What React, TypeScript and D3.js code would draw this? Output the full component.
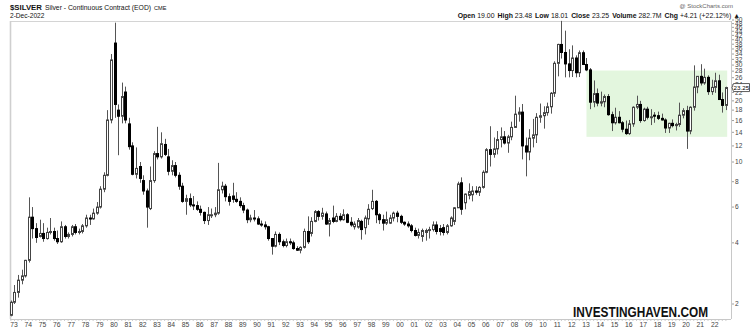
import React from "react";
import * as d3 from "d3";

// Quarterly candles, first bar = 1972 Q4, last bar = 2022 Q4
const firstYear = 1972;
const firstQuarter = 4;

const opens = [
  1.76,
  2.04, 2.28, 2.62, 2.75,
  3.28, 5.35, 4.70, 4.30,
  4.45, 4.20, 4.50, 4.55,
  4.20, 4.05, 4.80, 4.30,
  4.40, 4.80, 4.50, 4.55,
  4.85, 5.30, 5.25, 5.60,
  6.00, 7.35, 8.60, 16.1,
  38.5, 18.0, 16.8, 22.1,
  15.4, 12.0, 8.70, 9.50,
  8.10, 7.20, 5.90, 8.10,
  11.0, 10.6, 12.2, 10.6,
  9.00, 9.60, 8.60, 7.60,
  6.40, 6.60, 6.15, 6.10,
  5.85, 5.65, 5.15, 5.45,
  5.50, 5.60, 7.30, 7.60,
  6.75, 6.80, 6.55, 6.40,
  6.10, 5.80, 5.20, 5.30,
  5.25, 4.95, 4.90, 4.80,
  4.20, 3.85, 4.40, 4.05,
  3.88, 4.05, 4.00, 3.75,
  3.68, 3.80, 4.55, 4.45,
  5.10, 5.70, 5.40, 5.55,
  4.95, 5.30, 5.10, 5.40,
  5.20, 5.50, 5.05, 4.80,
  4.78, 5.10, 4.75, 5.25,
  5.90, 6.40, 5.50, 5.20,
  5.00, 5.00, 5.30, 5.60,
  5.40, 5.05, 4.95, 4.85,
  4.60, 4.35, 4.30, 4.50,
  4.60, 4.65, 4.90, 4.70,
  4.75, 4.50, 4.85, 5.10,
  5.95, 7.90, 6.30, 6.85,
  6.90, 7.20, 7.10, 7.50,
  8.90, 11.5, 10.9, 11.6,
  12.9, 13.3, 12.4, 13.3,
  14.8, 17.2, 17.6, 12.0,
  11.2, 13.1, 13.6, 16.6,
  16.9, 17.5, 18.7, 21.8,
  30.6, 37.9, 34.6, 30.4,
  28.2, 32.5, 27.5, 34.5,
  30.2, 28.4, 19.7, 21.7,
  19.5, 19.8, 21.0, 17.1,
  15.6, 16.6, 15.6, 14.5,
  13.8, 15.4, 18.6, 19.2,
  16.0, 18.2, 16.6, 17.0,
  16.9, 16.4, 16.1, 14.7,
  15.5, 15.1, 15.3, 17.0,
  17.9, 14.2, 18.6, 23.4,
  26.4, 24.5, 26.1, 22.2,
  23.3, 25.1, 20.3, 19.0,
];

const highs = [
  2.08,
  2.48, 2.78, 2.95, 3.30,
  6.70, 6.00, 5.00, 5.20,
  5.00, 4.75, 5.30, 4.75,
  4.60, 5.10, 4.90, 4.50,
  4.90, 4.95, 4.70, 4.95,
  5.50, 5.50, 5.90, 6.35,
  7.60, 8.90, 18.0, 34.0,
  48.5, 19.2, 24.6, 23.5,
  16.5, 12.5, 11.8, 10.0,
  8.60, 7.40, 9.50, 11.3,
  14.9, 14.0, 13.0, 11.6,
  10.2, 10.0, 8.90, 7.90,
  6.90, 7.00, 6.80, 6.40,
  6.10, 5.70, 6.00, 5.90,
  6.00, 9.90, 8.00, 7.80,
  7.00, 7.90, 7.10, 6.70,
  6.30, 5.90, 5.50, 5.80,
  5.40, 5.15, 5.10, 4.85,
  4.20, 4.55, 4.50, 4.15,
  4.20, 4.20, 4.10, 3.85,
  3.85, 4.70, 5.40, 5.35,
  5.80, 5.80, 5.95, 5.70,
  5.30, 6.10, 5.60, 5.60,
  5.85, 5.60, 5.35, 5.10,
  5.30, 5.20, 5.45, 6.20,
  7.30, 6.50, 5.60, 5.50,
  5.70, 5.50, 5.70, 5.75,
  5.50, 5.10, 5.10, 4.95,
  4.75, 4.70, 4.70, 4.70,
  4.80, 5.10, 5.10, 4.90,
  4.95, 4.95, 5.40, 6.00,
  8.00, 8.40, 7.00, 7.85,
  7.60, 7.60, 7.60, 9.10,
  11.7, 15.0, 13.2, 14.2,
  14.8, 14.2, 13.6, 15.8,
  21.2, 18.6, 19.3, 13.2,
  14.5, 16.3, 17.4, 19.4,
  18.8, 19.6, 22.1, 31.3,
  38.2, 49.5, 44.3, 35.9,
  37.5, 33.5, 35.4, 35.4,
  32.5, 29.0, 25.2, 23.0,
  22.2, 21.5, 21.6, 17.7,
  18.5, 17.8, 15.9, 16.0,
  16.1, 18.8, 21.2, 20.0,
  18.5, 18.7, 18.2, 17.6,
  17.7, 17.3, 16.4, 15.6,
  16.2, 15.6, 19.6, 18.4,
  18.9, 18.8, 29.9, 26.5,
  30.3, 28.8, 26.7, 25.4,
  27.5, 26.9, 22.0, 23.48,
];

const lows = [
  1.74,
  2.00, 2.15, 2.50, 2.70,
  3.20, 4.20, 4.00, 4.25,
  4.05, 4.15, 4.40, 4.10,
  3.95, 4.00, 4.20, 4.20,
  4.30, 4.40, 4.40, 4.45,
  4.75, 4.90, 5.20, 5.50,
  5.90, 7.10, 8.50, 15.5,
  16.5, 10.8, 15.5, 15.5,
  11.5, 8.60, 8.30, 7.90,
  6.90, 4.75, 5.80, 7.90,
  10.3, 10.4, 10.7, 8.60,
  8.60, 8.40, 7.30, 6.30,
  5.50, 6.00, 5.80, 5.75,
  5.45, 4.95, 4.90, 5.30,
  5.35, 5.50, 7.00, 6.40,
  6.10, 6.30, 6.30, 5.95,
  5.60, 5.00, 5.05, 5.10,
  4.90, 4.80, 4.65, 4.10,
  3.50, 3.80, 3.90, 3.80,
  3.80, 3.90, 3.70, 3.65,
  3.55, 3.75, 3.95, 4.30,
  5.05, 5.15, 5.20, 4.90,
  4.30, 5.00, 5.05, 5.10,
  5.15, 5.00, 4.80, 4.65,
  4.70, 4.15, 4.40, 4.90,
  5.80, 5.00, 4.95, 4.60,
  4.90, 4.95, 5.10, 5.05,
  4.95, 4.85, 4.75, 4.50,
  4.30, 4.20, 4.05, 4.10,
  4.20, 4.55, 4.40, 4.35,
  4.35, 4.40, 4.80, 4.90,
  5.95, 5.50, 5.85, 6.55,
  6.40, 6.90, 6.80, 7.40,
  8.80, 9.50, 10.5, 10.9,
  11.8, 12.2, 11.1, 12.8,
  14.7, 15.8, 10.3, 8.50,
  10.2, 11.8, 12.4, 15.6,
  14.6, 16.9, 17.3, 20.9,
  26.4, 32.3, 26.1, 26.1,
  26.2, 26.1, 26.2, 30.0,
  28.0, 18.2, 18.6, 18.8,
  18.8, 18.6, 16.9, 14.2,
  15.3, 15.5, 14.0, 13.6,
  13.6, 14.9, 18.2, 15.6,
  15.8, 16.2, 15.2, 15.6,
  16.1, 16.0, 13.9, 13.9,
  14.8, 14.3, 14.9, 16.4,
  11.6, 13.7, 17.9, 21.8,
  23.8, 24.0, 21.4, 21.4,
  21.9, 20.2, 17.5, 18.01,
];

const closes = [
  2.04,
  2.28, 2.62, 2.75, 3.28,
  5.35, 4.70, 4.25, 4.45,
  4.20, 4.50, 4.55, 4.20,
  4.05, 4.80, 4.30, 4.40,
  4.80, 4.50, 4.55, 4.85,
  5.30, 5.25, 5.60, 6.00,
  7.35, 8.60, 16.1, 31.8,
  19.2, 16.8, 21.0, 16.1,
  11.9, 8.70, 9.30, 8.30,
  7.20, 6.00, 8.10, 11.0,
  10.6, 12.3, 10.9, 9.00,
  9.60, 8.60, 7.60, 6.40,
  6.60, 6.15, 6.10, 5.85,
  5.65, 5.15, 5.50, 5.50,
  5.60, 7.30, 7.60, 6.75,
  6.40, 6.55, 6.40, 6.10,
  5.80, 5.20, 5.30, 5.25,
  4.95, 4.90, 4.80, 4.20,
  3.85, 4.40, 4.05, 3.88,
  4.05, 4.00, 3.75, 3.68,
  3.80, 4.55, 4.05, 5.10,
  5.70, 5.40, 5.60, 4.95,
  5.15, 5.10, 5.40, 5.20,
  5.50, 5.05, 4.90, 4.95,
  5.15, 4.65, 5.30, 5.85,
  6.40, 5.50, 5.20, 5.00,
  5.20, 5.30, 5.60, 5.40,
  5.05, 4.95, 4.85, 4.60,
  4.35, 4.50, 4.60, 4.60,
  4.65, 4.90, 4.55, 4.55,
  4.50, 4.85, 5.30, 5.95,
  7.80, 5.85, 6.95, 7.15,
  7.20, 7.10, 7.50, 8.90,
  11.5, 10.9, 11.6, 12.9,
  13.3, 12.4, 13.3, 14.8,
  17.2, 17.6, 12.0, 11.2,
  13.1, 13.6, 16.6, 16.9,
  17.5, 18.7, 21.8, 30.6,
  37.9, 34.6, 30.4, 28.2,
  32.5, 27.5, 34.5, 30.2,
  28.4, 19.7, 21.7, 19.5,
  19.8, 21.0, 17.1, 15.6,
  16.6, 15.6, 14.5, 13.8,
  15.4, 18.6, 19.2, 16.0,
  18.2, 16.6, 16.7, 16.9,
  16.4, 16.1, 14.7, 15.5,
  15.1, 15.3, 17.0, 17.9,
  14.2, 18.6, 23.4, 26.4,
  24.5, 26.1, 22.2, 23.3,
  25.1, 20.3, 19.0, 23.25,
];

const yTicks = [2, 4, 6, 8, 10, 12, 14, 16, 18, 20, 22, 24, 26, 28, 30, 32, 34, 36, 38, 40, 42, 44, 46, 48, 50];
const yearTicks = d3.range(1973, 2023);

// Green consolidation zone (2013 Q1 -> last bar)
const zoneStartYear = 2013;
const zoneLow = 13.3;
const zoneHigh = 28.2;

const lastPrice = 23.25;
const headerStats = [
  ["Open", "19.00"],
  ["High", "23.48"],
  ["Low", "18.01"],
  ["Close", "23.25"],
  ["Volume", "282.7M"],
  ["Chg", "+4.21 (+22.12%) \u25B2"],
];

const FONT = "'Liberation Sans', Arial, Helvetica, sans-serif";

function qIndex(year: number, q: number) {
  return (year - firstYear) * 4 + (q - firstQuarter);
}

export default function App() {
  const W = 750;
  const H = 330;
  const n = opens.length;
  const x = d3.scaleLinear().domain([0, n - 1]).range([10.9, 725.9]);
  const y = d3.scaleLog().domain([2, 50]).range([304, 20]);

  const plotLeft = 10;
  const plotRight = 731;
  const plotTop = 21;
  const plotBottom = 319;

  const zx0 = x(qIndex(zoneStartYear, 1));
  const zx1 = x(n - 1) + 1.3;

  const candles = d3.range(n).map((i) => {
    const px = Math.round(x(i));
    const o = opens[i], c = closes[i];
    const up = c >= o;
    const yTop = y(Math.max(o, c));
    const yBot = y(Math.min(o, c));
    return { i, px, up, yTop, yBot, yH: y(highs[i]), yL: y(lows[i]) };
  });

  const yl = y(lastPrice);

  return (
    <svg
      width={W}
      height={H}
      viewBox={`0 0 ${W} ${H}`}
      style={{ position: "absolute", left: 0, top: 0, background: "#fff" }}
      fontFamily={FONT}
    >
      <rect x={0} y={0} width={W} height={H} fill="#fff" />

      {/* header */}
      <text x={10} y={9.5} fontSize={7.8} fill="#111">
        <tspan fontWeight="bold">$SILVER</tspan>
        <tspan dx={3} fontSize={6.8}>Silver - Continuous Contract (EOD)</tspan>
        <tspan dx={3} fontSize={5.6}>CME</tspan>
      </text>
      <text x={10} y={17.5} fontSize={6.6} fill="#111">2-Dec-2022</text>
      <text x={733} y={8} fontSize={6} fill="#666" textAnchor="end">@ StockCharts.com</text>
      <text x={740} y={17.5} fontSize={6.9} fill="#111" textAnchor="end">
        {headerStats.map(([k, v], j) => (
          <React.Fragment key={k}>
            <tspan fontWeight="bold" dx={j === 0 ? 0 : 3}>{k}</tspan>
            <tspan dx={2}>{v}</tspan>
          </React.Fragment>
        ))}
      </text>

      {/* plot frame */}
      <line x1={plotLeft} x2={plotRight} y1={plotTop + 0.5} y2={plotTop + 0.5} stroke="#d4d4d4" />
      <line x1={plotLeft + 0.5} x2={plotLeft + 0.5} y1={plotTop} y2={plotBottom} stroke="#cfcfcf" strokeWidth={1.6} />
      <line x1={plotRight + 0.5} x2={plotRight + 0.5} y1={plotTop} y2={plotBottom} stroke="#c8c8c8" />
      <line x1={plotLeft} x2={plotRight} y1={plotBottom + 0.5} y2={plotBottom + 0.5} stroke="#c8c8c8" />

      {/* zone */}
      <rect
        x={zx0}
        y={y(zoneHigh)}
        width={zx1 - zx0}
        height={y(zoneLow) - y(zoneHigh)}
        fill="#e3f6de"
      />

      {/* candles */}
      <g>
        {candles.map((d) => (
          <line
            key={"w" + d.i}
            x1={d.px + 0.5}
            x2={d.px + 0.5}
            y1={d.yH}
            y2={d.yL}
            stroke="#555"
            strokeWidth={1}
          />
        ))}
        {candles.map((d) => (
          <rect
            key={"b" + d.i}
            x={d.px - 0.5}
            y={d.yTop}
            width={2}
            height={Math.max(1, d.yBot - d.yTop)}
            fill={d.up ? "#fff" : "#000"}
            stroke={d.up ? "#444" : "#000"}
            strokeWidth={1}
          />
        ))}
      </g>

      {/* right axis */}
      {yTicks.map((t) => (
        <g key={t}>
          <line x1={plotRight + 1} x2={plotRight + 3} y1={y(t)} y2={y(t)} stroke="#888" strokeWidth={0.8} />
          <text x={735} y={y(t) + 2.3} fontSize={6.6} fill="#444">{t}</text>
        </g>
      ))}
      <g>
        <path
          d={`M${plotRight + 1},${yl} L${plotRight + 2.5},${yl - 4} L${W - 0.5},${yl - 4} L${W - 0.5},${yl + 4} L${plotRight + 2.5},${yl + 4} Z`}
          fill="#fff"
          stroke="#333"
          strokeWidth={0.8}
        />
        <text x={733.6} y={yl + 2.3} fontSize={6.2} fill="#000">{lastPrice.toFixed(2)}</text>
      </g>

      {/* bottom axis */}
      {d3.range(n).map((i) => (
        <line key={"qt" + i} x1={x(i)} x2={x(i)} y1={plotBottom + 1} y2={plotBottom + 2} stroke="#aaa" strokeWidth={0.6} />
      ))}
      {yearTicks.map((yr) => (
        <text
          key={yr}
          x={x(qIndex(yr, 1)) - 0.5}
          y={327}
          fontSize={6.8}
          fill="#444"
          textAnchor="middle"
        >
          {String(yr % 100).padStart(2, "0")}
        </text>
      ))}

      {/* watermark */}
      <text
        x={573}
        y={317}
        fontSize={15}
        fontWeight="bold"
        fill="#111"
        textLength={135}
        lengthAdjust="spacingAndGlyphs"
      >
        INVESTINGHAVEN.COM
      </text>
    </svg>
  );
}
